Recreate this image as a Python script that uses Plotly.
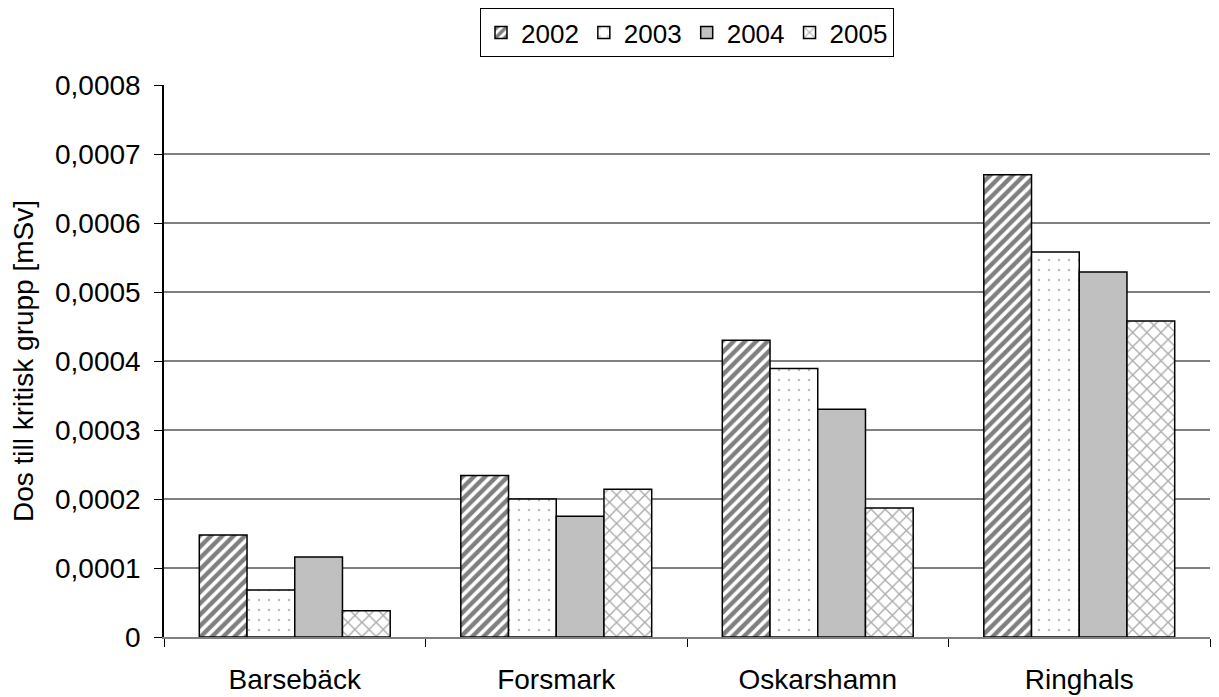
import plotly.graph_objects as go

categories = ["Barsebäck", "Forsmark", "Oskarshamn", "Ringhals"]
years = ["2002", "2003", "2004", "2005"]
v2002 = [0.000148, 0.000234, 0.000430, 0.000670]
v2003 = [0.000068, 0.000200, 0.000389, 0.000558]
v2004 = [0.000116, 0.000175, 0.000330, 0.000529]
v2005 = [0.000038, 0.000214, 0.000187, 0.000458]
series = [v2002, v2003, v2004, v2005]
y_tickvals = [0, 0.0001, 0.0002, 0.0003, 0.0004, 0.0005, 0.0006, 0.0007, 0.0008]
y_ticktext = ["0", "0,0001", "0,0002", "0,0003", "0,0004", "0,0005", "0,0006", "0,0007", "0,0008"]

styles = [
    dict(color="white", pattern=dict(shape="/", fgcolor="black", bgcolor="white", size=8, solidity=0.55, fillmode="overlay")),
    dict(color="white", pattern=dict(shape=".", fgcolor="#777777", bgcolor="white", size=10, solidity=0.05, fillmode="overlay")),
    dict(color="#C0C0C0"),
    dict(color="white", pattern=dict(shape="x", fgcolor="#555555", bgcolor="white", size=10, solidity=0.25, fillmode="overlay")),
]

FONT = "Liberation Sans, Arial, sans-serif"
fig = go.Figure()
for name, vals, st in zip(years, series, styles):
    marker = dict(line=dict(color="black", width=1.5), **st)
    fig.add_trace(go.Bar(x=categories, y=vals, name=name, marker=marker))

for v in y_tickvals[1:-1]:
    fig.add_shape(type="line", xref="paper", x0=0, x1=1, yref="y", y0=v, y1=v,
                  line=dict(color="black", width=1), layer="below")

# page body has an 8px margin, so the figure is sized/offset to compensate
fig.update_layout(
    width=1211, height=689,
    margin=dict(l=156, r=9, t=77, b=60),
    paper_bgcolor="white", plot_bgcolor="white",
    barmode="group", bargap=0.27, bargroupgap=0,
    font=dict(family=FONT, size=28, color="black"),
    showlegend=True,
    legend=dict(orientation="h", x=0.5, xanchor="center", yref="container", y=1.0, yanchor="top",
                bordercolor="black", borderwidth=1, font=dict(size=26),
                itemwidth=30, tracegroupgap=0, traceorder="normal"),
)
fig.update_xaxes(showline=True, linecolor="#808080", linewidth=1.5, automargin=False,
                 ticks="outside", tickson="boundaries", ticklen=8, tickcolor="black",
                 tickfont=dict(size=28), showgrid=False, ticklabelstandoff=17)
fig.update_yaxes(range=[0, 0.0008], tickvals=y_tickvals, ticktext=y_ticktext, automargin=False,
                 showline=True, linecolor="black", linewidth=1.5,
                 ticks="outside", ticklen=8, tickcolor="black", showgrid=False,
                 zeroline=False, tickfont=dict(size=28), ticklabelstandoff=8,
                 title=dict(text="Dos till kritisk grupp [mSv]", font=dict(size=28), standoff=14))

fig.write_html("out.html")
